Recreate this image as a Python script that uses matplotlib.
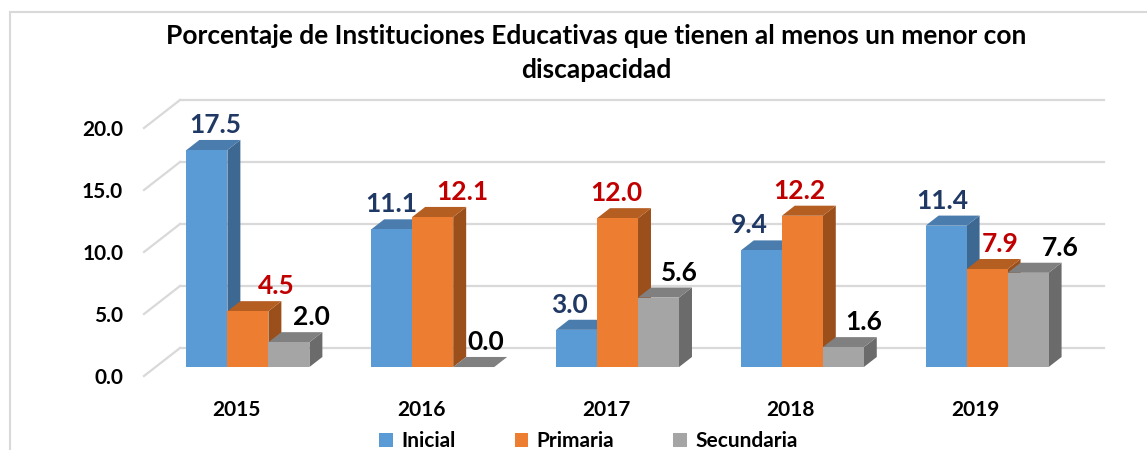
import matplotlib
matplotlib.use("Agg")
import matplotlib.pyplot as plt
from matplotlib.patches import Polygon, Rectangle, Patch

# ---------------- data ----------------
years = ["2015", "2016", "2017", "2018", "2019"]
series_names = ["Inicial", "Primaria", "Secundaria"]
inicial = [17.5, 11.1, 3.0, 9.4, 11.4]
primaria = [4.5, 12.1, 12.0, 12.2, 7.9]
secundaria = [2.0, 0.0, 5.6, 1.6, 7.6]
yticks = [0.0, 5.0, 10.0, 15.0, 20.0]

# ---------------- style ----------------
FONT = "Lato"
front_colors = ["#5B9BD5", "#ED7D31", "#A5A5A5"]
top_colors = ["#4A7CAD", "#B55E22", "#808080"]
side_colors = ["#3D6891", "#9B4F1B", "#6B6B6B"]
label_colors = ["#1F3864", "#C00000", "#000000"]
grid_color = "#D9D9D9"
# manual nudges of the value labels (pixels, horizontal), one per bar
label_nudge_px = [
    [1.5, -7, -14, -18, -10],
    [22, 23.5, -8, -9, 7],
    [16, 5.7, 14.5, 14, 25.5],
]

W, H, DPI = 1147, 450, 100
fig = plt.figure(figsize=(W / DPI, H / DPI), dpi=DPI)
fig.patch.set_facecolor("white")

# chart border (light gray, continues beyond the image)
fig.patches.append(Rectangle((10 / W, -0.1), 1.2, (H - 12) / H + 0.1,
                             transform=fig.transFigure, fill=False,
                             edgecolor=grid_color, linewidth=1.5))

# axes = front plane of the 3D box
ax_l, ax_r, ax_b, ax_t = 144, 1068, 376, 128
ax = fig.add_axes([ax_l / W, (H - ax_b) / H, (ax_r - ax_l) / W, (ax_b - ax_t) / H])
ax.set_xlim(-0.5, len(years) - 0.5)
ax.set_ylim(0, 20)
ax.patch.set_alpha(0)
for s in ax.spines.values():
    s.set_visible(False)

px_per_x = (ax_r - ax_l) / len(years)
px_per_y = (ax_b - ax_t) / 20.0
DX = 36 / px_per_x          # full floor depth, x direction (data units)
DY = 28 / px_per_y          # full floor depth, y direction (data units)
f1, f2 = 0.32, 0.68         # bar depth range
bw = 41 / px_per_x          # bar width

# back wall gridlines and left wall diagonals
for v in yticks:
    ax.plot([-0.5 + DX, len(years) - 0.5 + DX], [v + DY, v + DY],
            color=grid_color, lw=1.6, clip_on=False, zorder=0)
    ax.plot([-0.5, -0.5 + DX], [v, v + DY], color=grid_color, lw=1.6,
            clip_on=False, zorder=0)

series = [inicial, primaria, secundaria]
xs = list(range(len(years)))
offs = [-bw, 0.0, bw]

z = 2
for gi in xs:
    for si, vals in enumerate(series):
        v = vals[gi]
        xc = gi + offs[si] + f1 * DX
        base = f1 * DY
        xl, xr = xc - bw / 2, xc + bw / 2
        t = base + v
        bdx, bdy = (f2 - f1) * DX, (f2 - f1) * DY
        side = Polygon([(xr, base), (xr, t), (xr + bdx, t + bdy), (xr + bdx, base + bdy)],
                       closed=True, facecolor=side_colors[si], edgecolor="none",
                       zorder=z, clip_on=False)
        top = Polygon([(xl, t), (xr, t), (xr + bdx, t + bdy), (xl + bdx, t + bdy)],
                      closed=True, facecolor=top_colors[si], edgecolor="none",
                      zorder=z, clip_on=False)
        ax.add_patch(side)
        ax.add_patch(top)
        ax.bar([xc], [v], width=bw, bottom=base, color=front_colors[si],
               edgecolor="none", zorder=z, clip_on=False)
        z += 1
        # value label
        ax_x = xc + (f2 - f1) / 2 * DX
        ax_y = t + (f2 - f1) / 2 * DY
        ax.annotate(f"{v:.1f}", (ax_x, ax_y),
                    xytext=(label_nudge_px[si][gi] * 72 / DPI, 12 * 72 / DPI),
                    textcoords="offset points", ha="center", va="baseline",
                    fontsize=19, fontweight="bold", family=FONT,
                    color=label_colors[si], zorder=100, annotation_clip=False)

ax.set_yticks(yticks)
ax.set_yticklabels([f"{v:.1f}" for v in yticks], fontsize=15, fontweight="bold",
                   family=FONT)
ax.set_xticks(xs)
ax.set_xticklabels(years, fontsize=15, fontweight="bold", family=FONT)
ax.tick_params(axis="y", length=0, pad=15)
ax.tick_params(axis="x", length=0, pad=17)

fig.text(596.5 / W, 1 - 53 / H,
         "Porcentaje de Instituciones Educativas que tienen al menos un menor con\ndiscapacidad",
         ha="center", va="center", fontsize=19, fontweight="bold", family=FONT,
         linespacing=1.45)

leg_handles = [Patch(facecolor=c, edgecolor="none") for c in front_colors]
fig.legend(leg_handles, series_names, loc="center",
           bbox_to_anchor=(588.5 / W, 1 - 441 / H), ncol=3, frameon=False,
           prop={"family": FONT, "weight": "bold", "size": 15},
           handlelength=0.65, handleheight=0.65, handletextpad=0.4,
           columnspacing=2.84)

fig.savefig("out.png", dpi=DPI)
